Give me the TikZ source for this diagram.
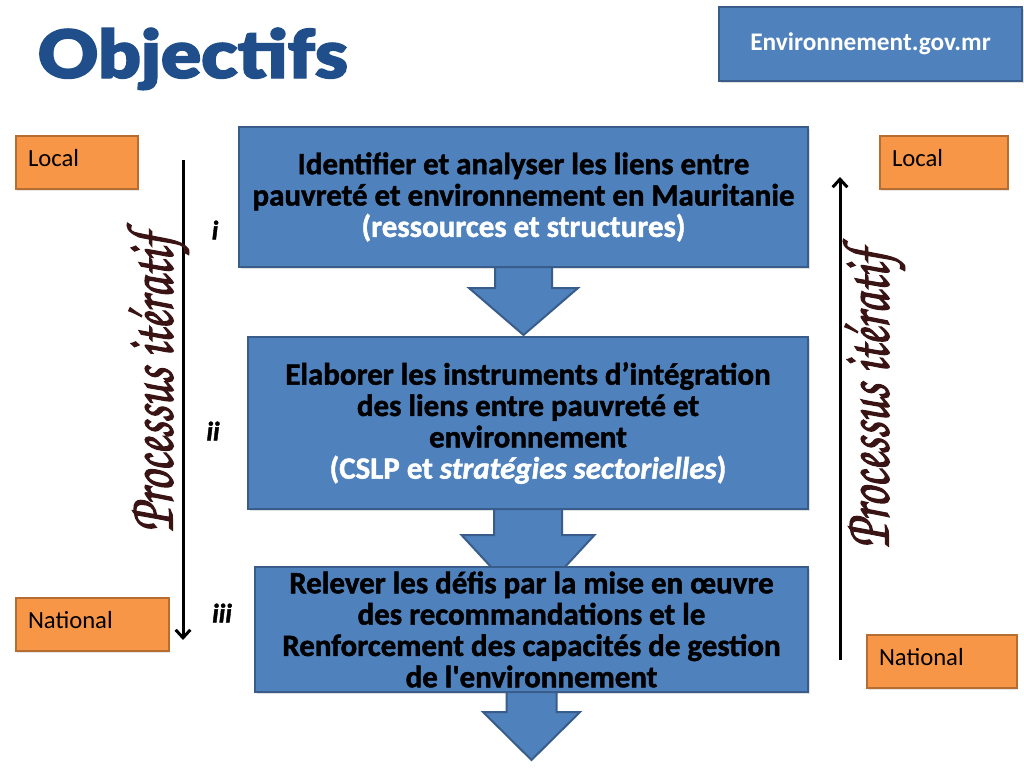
\documentclass[tikz,border=0pt]{standalone}
\usepackage{fontspec}
\setmainfont{Carlito}
\newfontfamily\heavyfont{Carlito}[BoldFeatures = {FakeBold = 1.5}, BoldItalicFeatures = {FakeBold = 1.5}]
\newfontfamily\titlefont{Lato Black}[FakeBold = 2]
\newfontfamily\handfont{texgyrechorus-mediumitalic.otf}[FakeBold = 2]
\usetikzlibrary{arrows.meta, shadows}
\definecolor{boxblue}{RGB}{79,129,189}
\definecolor{boxborder}{RGB}{56,93,138}
\definecolor{levelorange}{RGB}{247,150,70}
\definecolor{levelborder}{RGB}{182,109,49}
\definecolor{titleblue}{RGB}{31,78,138}
\definecolor{scriptbrown}{RGB}{58,20,20}
\tikzset{
    goalbox/.style = {draw = boxborder, line width = 1.5pt, fill = boxblue, align = center,
        font = \heavyfont\fontsize{23.2}{23.5}\selectfont\bfseries,
        drop shadow = {opacity = 0.25, shadow xshift = 1.5pt, shadow yshift = -1.5pt}},
    levelbox/.style = {draw = levelborder, line width = 1.5pt, fill = levelorange, align = left,
        inner xsep = 9pt, text width = #1, text depth = 7pt, font = \fontsize{18.5}{22}\selectfont,
        drop shadow = {opacity = 0.2, shadow xshift = 1pt, shadow yshift = -1pt}},
    blockarrow/.style = {draw = boxborder, line width = 1.5pt, fill = boxblue, line join = miter},
    flow/.style = {line width = 2.25pt, -{Straight Barb[length = 6pt, width = 11pt, line width = 2.25pt]}}
}
\begin{document}
\begin{tikzpicture}[x = 0.75pt, y = -0.75pt]
        \useasboundingbox (0,0) rectangle (1024,768);
        \fill[white] (0,0) rectangle (1024,768);
        \node[anchor = base west, text = titleblue, font = \titlefont\fontsize{50}{50}\selectfont] (title) at (33,78) {\scalebox{1.12}[1]{Objectifs}};
        \node[goalbox, minimum width = 227.25pt, minimum height = 55.5pt, text = white,
            font = \fontsize{19}{22}\selectfont\bfseries] (site) at (870.5,44) {Environnement.gov.mr};
        \begin{scope}[every node/.append style = {minimum height = 40pt}]
            \node[levelbox = 73.5pt, anchor = north west] (localL) at (15,135) {Local};
            \node[levelbox = 96.75pt, anchor = north west] (nationalL) at (15,597) {National};
            \node[levelbox = 78pt, anchor = north west] (localR) at (879,135) {Local};
            \node[levelbox = 94.5pt, anchor = north west] (nationalR) at (866,634) {National};
        \end{scope}
        \node[goalbox, minimum width = 426.75pt, minimum height = 105pt] (b1) at (523.5,197) {Identifier et analyser les liens entre\\
            pauvreté et environnement en Mauritanie\\
            \textcolor{white}{(ressources et structures)}};
        \node[goalbox, minimum width = 420pt, minimum height = 129pt] (b2) at (528,423) {Elaborer les instruments d’intégration\\
            des liens entre pauvreté et\\
            environnement\\
            \textcolor{white}{(CSLP et \textit{stratégies sectorielles})}};
        \draw[blockarrow] ([yshift = 0.75pt]b1.south) ++(-28.5,0) -- ++(0,21) -- ++(-26,0) -- ++(54.5,47) -- ++(54.5,-47) -- ++(-26,0) -- ++(0,-21) -- cycle;
        \draw[blockarrow] ([yshift = 0.75pt]b2.south) ++(-34,0) -- ++(0,26) -- ++(-32.5,0) -- ++(66.5,72) -- ++(66.5,-72) -- ++(-32.5,0) -- ++(0,-26) -- cycle;
        \node[goalbox, minimum width = 414.75pt, minimum height = 93.75pt] (b3) at (531.5,629.5) {Relever les défis par la mise en œuvre\\
            des recommandations et le\\
            Renforcement des capacités de gestion\\
            de l'environnement};
        \draw[blockarrow] ([yshift = 0.75pt]b3.south) ++(-25,0) -- ++(0,20) -- ++(-23.5,0) -- ++(48.5,48) -- ++(48.5,-48) -- ++(-23.5,0) -- ++(0,-20) -- cycle;
        \foreach \n/\x/\y in {i/215/230, ii/213/431, iii/222/613}
            \node[font = \heavyfont\fontsize{20}{20}\selectfont\bfseries\itshape] (num\n) at (\x,\y) {\n};
        \coordinate (downTop) at (183,160);
        \coordinate (downEnd) at (183,640);
        \coordinate (upStart) at (840,660);
        \coordinate (upTop) at (840,177);
        \draw[flow] (downTop) -- (downEnd);
        \draw[flow] (upStart) -- (upTop);
        \foreach \s/\x/\y in {L/158/383, R/874/399}
            \node[rotate = 90, text = scriptbrown, font = \handfont\fontsize{37}{37}\selectfont] (iter\s) at (\x,\y) {\scalebox{1}[1.35]{Processus itératif}};
    \end{tikzpicture}
\end{document}
